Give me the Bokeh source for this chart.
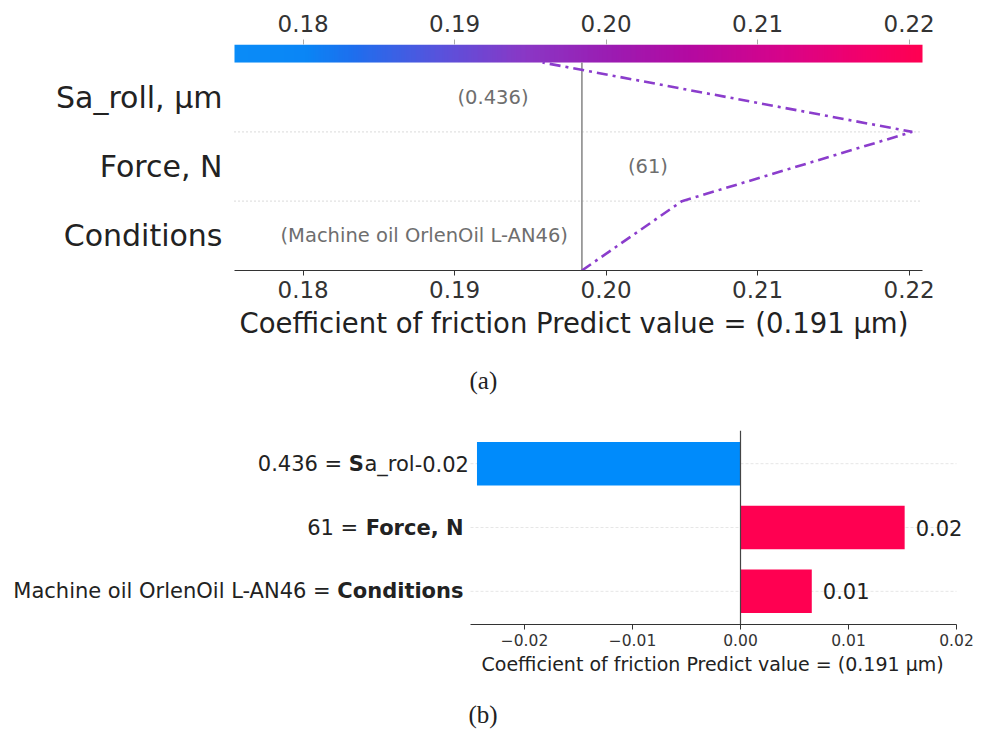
import numpy as np
from bokeh.plotting import figure
from bokeh.layouts import column
from bokeh.models import (ColumnDataSource, FixedTicker, LinearAxis, Range1d,
                          LinearColorMapper, Title)
from bokeh.core.properties import value
from bokeh.embed import file_html
from bokeh.resources import INLINE

# ---- data -----------------------------------------------------------------
# features listed bottom -> top as they are stacked in the decision plot
features = ["Conditions", "Force, N", "Sa_roll, µm"]
feature_values = ["Machine oil OrlenOil L-AN46", "61", "0.436"]
contributions = [0.0066, 0.0152, -0.0244]
base_value = 0.1984

decision_ticks = [0.18, 0.19, 0.20, 0.21, 0.22]
decision_tick_labels = ["0.18", "0.19", "0.20", "0.21", "0.22"]
bar_ticks = [-0.02, -0.01, 0.0, 0.01, 0.02]
bar_tick_labels = ["\u22120.02", "\u22120.01", "0.00", "0.01", "0.02"]

# bold feature names in the bar chart (plus the regular tail of a clipped name)
bar_names_bold = ["Conditions", "Force, N", "S"]
bar_names_tail = ["", "", "a_rol"]

x_title = "Coefficient of friction Predict value = (0.191 µm)"

# ---- styling --------------------------------------------------------------
SANS = "DejaVu Sans"
SERIF = "Liberation Serif"
BLUE = "#008bfb"
RED = "#ff0051"
TXT = "#222222"
W = 988

# approximate advance widths (em) of DejaVu Sans, used to chain mixed-weight labels
REG = {"0": .636, "1": .636, "2": .636, "3": .636, "4": .636, "6": .636, ".": .318,
       " ": .318, "=": .838, "-": .361, "a": .613, "_": .5, "r": .411, "o": .612,
       "l": .278}
BOLD = {"S": .720, "F": .683, "o": .687, "r": .493, "c": .593, "e": .678, ",": .380,
        " ": .348, "N": .837, "C": .734, "n": .712, "d": .716, "i": .343, "t": .478,
        "s": .595}


def text_width(s, table, size):
    return sum(table.get(ch, 0.6) for ch in s) * size


def blend(stops, n=256):
    pos = np.array([p for p, _ in stops])
    rgb = np.array([[int(c[i:i + 2], 16) for i in (1, 3, 5)] for _, c in stops], float)
    t = np.linspace(0, 1, n)
    chans = [np.interp(t, pos, rgb[:, k]) for k in range(3)]
    return ["#%02x%02x%02x" % (int(r), int(g), int(b)) for r, g, b in zip(*chans)]


def style_axis(axis, size, color="#333333"):
    axis.minor_tick_line_color = None
    axis.major_tick_in = 0
    axis.major_tick_out = 5
    axis.axis_line_color = color
    axis.major_tick_line_color = color
    axis.major_label_text_font = SANS
    axis.major_label_text_font_size = size
    axis.major_label_text_color = "#333333"


def add_captions(p, title_size, title_offset, title_standoff, gap, tag, tag_offset):
    """Axis title, an empty gap, then the panel tag, stacked under the axis."""
    p.add_layout(Title(text=x_title, align="left", offset=title_offset,
                       standoff=title_standoff, text_font=SANS,
                       text_font_size=title_size, text_font_style="normal",
                       text_color=TXT), "below")
    p.add_layout(Title(text=" ", standoff=gap, text_font_size="1px"), "below")
    p.add_layout(Title(text=tag, align="left", offset=tag_offset, standoff=2,
                       text_font=SERIF, text_font_size="25px",
                       text_font_style="normal", text_color=TXT), "below")


palette = blend([(0.0, "#0a8cf8"), (0.10, "#0a86f6"), (0.17, "#1e6fee"),
                 (0.30, "#5a52dc"), (0.42, "#8a38c6"), (0.55, "#9c1cb2"),
                 (0.66, "#b40aa2"), (0.80, "#d8048a"), (0.92, "#f4006a"),
                 (1.0, "#ff0052")])

# ---- (a) decision plot ----------------------------------------------------
# the frame spans the whole width; the data area is x_lo..x_hi
x_lo, x_hi = 0.17547, 0.22088
a_left, a_right = 234.0, 922.0
a_scale = (a_right - a_left) / (x_hi - x_lo)
n = len(features)
cbar_h = 0.26

path_x = base_value + np.concatenate([[0.0], np.cumsum(contributions)])
path_y = np.arange(n + 1)

pA = figure(width=W, height=420,
            x_range=Range1d(x_lo - a_left / a_scale, x_hi + (W - a_right) / a_scale),
            y_range=Range1d(0, n + cbar_h), output_backend="svg",
            toolbar_location=None, y_axis_location=None, min_border_left=0,
            min_border_right=0, min_border_top=44, min_border_bottom=150)
pA.outline_line_color = None
pA.xgrid.visible = False
pA.ygrid.visible = False

# dotted row separators
pA.segment(x0=[x_lo] * (n - 1), x1=[x_hi] * (n - 1), y0=list(range(1, n)),
           y1=list(range(1, n)), line_color="#c4c4c4", line_dash="1 3", line_width=1.3)

# colour bar across the top of the panel
grad = np.linspace(x_lo, x_hi, 400)[None, :]
mapper = LinearColorMapper(palette=palette, low=x_lo, high=x_hi)
pA.image(image=[grad], x=x_lo, y=n, dw=x_hi - x_lo, dh=cbar_h, color_mapper=mapper)

# base value marker
pA.segment(x0=[base_value], y0=[0], x1=[base_value], y1=[n], line_color="#8c8c8c",
           line_width=1.6)

# decision path
pA.line(path_x, path_y, line_color="#8b3dcc", line_width=2.6, line_dash="11 5 3 5")

# feature values printed beside the path
val_x = [min(path_x[i], path_x[i + 1]) for i in range(n)]
val_src = ColumnDataSource(dict(x=val_x, y=[i + 0.5 for i in range(n)],
                                t=["(%s)" % v for v in feature_values]))
pA.text(x="x", y="y", text="t", source=val_src, text_align="right",
        text_baseline="middle", x_offset=-14, text_color="#6e6e6e",
        text_font=value(SANS), text_font_size="19.5px")

# feature names
pA.text(x=[x_lo] * n, y=[i + 0.5 for i in range(n)], text=features, text_align="right",
        text_baseline="middle", x_offset=-12, text_color=TXT, text_font=value(SANS),
        text_font_size="30px")

dec_over = {t: l for t, l in zip(decision_ticks, decision_tick_labels)}

ax = pA.xaxis[0]
ax.bounds = (x_lo, x_hi)
ax.ticker = FixedTicker(ticks=decision_ticks)
ax.major_label_overrides = dec_over
style_axis(ax, "23px")
ax.major_label_standoff = 5

top = LinearAxis(ticker=FixedTicker(ticks=decision_ticks), major_label_overrides=dec_over,
                 bounds=(x_lo, x_hi))
style_axis(top, "23px", "#aaaaaa")
top.axis_line_color = None
top.major_label_standoff = 8
pA.add_layout(top, "above")

add_captions(pA, "27.5px", 239, 8, 18, "(a)", 469)

# ---- (b) contribution bars ------------------------------------------------
px_per_unit = 10800.0          # horizontal scale of the bar panel
zero_px = 740.0
b_lo, b_hi = -0.025, 0.02
rows = list(range(n))

pB = figure(width=W, height=311,
            x_range=Range1d(-zero_px / px_per_unit, (W - zero_px) / px_per_unit),
            y_range=Range1d(-0.52, n - 1 + 0.52), output_backend="svg",
            toolbar_location=None, y_axis_location=None, min_border_left=0,
            min_border_right=0, min_border_top=10, min_border_bottom=107)
pB.outline_line_color = None
pB.xgrid.visible = False
pB.ygrid.visible = False

pB.segment(x0=[b_lo] * n, x1=[b_hi] * n, y0=rows, y1=rows, line_color="#e6e6e6",
           line_width=1, line_dash="3 2")
bar_colors = [RED if c > 0 else BLUE for c in contributions]
pB.hbar(y=rows, left=0, right=contributions, height=0.68, fill_color=bar_colors,
        line_color=None)
pB.segment(x0=[0], x1=[0], y0=[-0.52], y1=[n - 1 + 0.52], line_color="#444444",
           line_width=1.2)

LBL = 21
value_txt = ["%.2f" % c for c in contributions]
pos_idx = [i for i, c in enumerate(contributions) if c > 0]
neg_idx = [i for i, c in enumerate(contributions) if c <= 0]
pB.text(x=[contributions[i] for i in pos_idx], y=[rows[i] for i in pos_idx],
        text=[value_txt[i] for i in pos_idx], x_offset=11, text_align="left",
        text_baseline="middle", text_font=value(SANS), text_font_size="%dpx" % LBL,
        text_color=TXT)
pB.text(x=[contributions[i] for i in neg_idx], y=[rows[i] for i in neg_idx],
        text=[value_txt[i] for i in neg_idx], x_offset=-8, text_align="right",
        text_baseline="middle", text_font=value(SANS), text_font_size="%dpx" % LBL,
        text_color=TXT)

# row labels: "<value> = <bold feature name>", chained right to left
for i in rows:
    if contributions[i] > 0:
        anchor, off = b_lo, -7.0
    else:
        anchor = contributions[i]
        off = -8.0 - text_width(value_txt[i], REG, LBL)
    tail = bar_names_tail[i]
    if tail:
        pB.text(x=[anchor], y=[i], text=[tail], x_offset=off, text_align="right",
                text_baseline="middle", text_font=value(SANS),
                text_font_size="%dpx" % LBL, text_color=TXT)
        off -= text_width(tail, REG, LBL)
    pB.text(x=[anchor], y=[i], text=[bar_names_bold[i]], x_offset=off,
            text_align="right", text_baseline="middle", text_font=value(SANS),
            text_font_style="bold", text_font_size="%dpx" % LBL, text_color=TXT)
    off -= text_width(bar_names_bold[i], BOLD, LBL)
    pB.text(x=[anchor], y=[i], text=[feature_values[i] + " = "], x_offset=off,
            text_align="right", text_baseline="middle", text_font=value(SANS),
            text_font_size="%dpx" % LBL, text_color=TXT)

bx = pB.xaxis[0]
bx.bounds = (b_lo, b_hi)
bx.ticker = FixedTicker(ticks=bar_ticks)
bx.major_label_overrides = {t: l for t, l in zip(bar_ticks, bar_tick_labels)}
style_axis(bx, "15.5px")
bx.major_label_standoff = 4

add_captions(pB, "19px", 481, 4, 18, "(b)", 468)

layout = column(pA, pB, spacing=0)
open("out.html", "w").write(file_html(layout, INLINE))
